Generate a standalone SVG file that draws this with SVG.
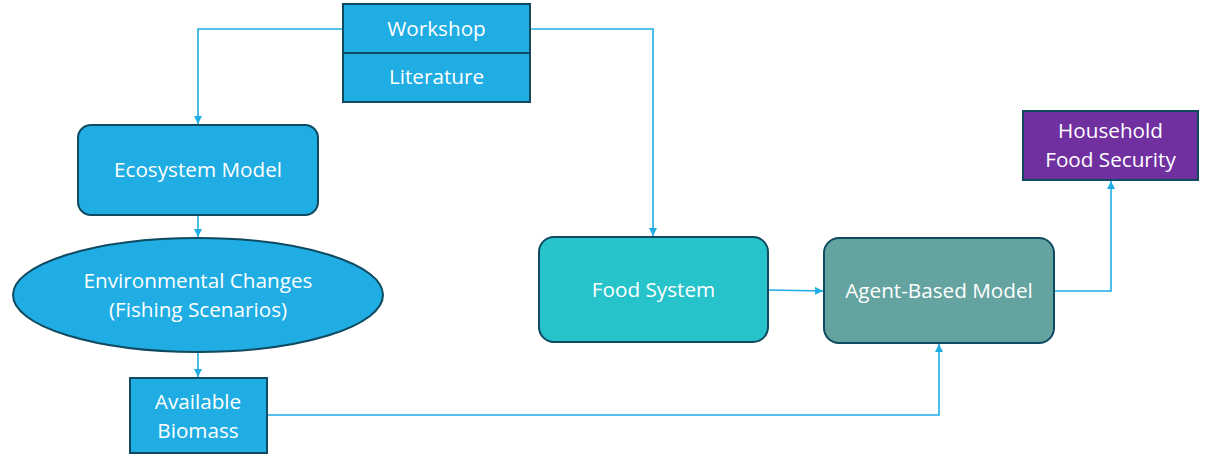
<svg xmlns="http://www.w3.org/2000/svg" width="1207" height="461" viewBox="0 0 1207 461">
<style>
.t{font-family:"Open Sans","Noto Sans","Liberation Sans",sans-serif;font-size:20.7px;fill:#ffffff;text-anchor:middle;dominant-baseline:central}
.c{fill:none;stroke:#1fade3;stroke-width:1.6}
.n{stroke:#0f4a60;stroke-width:2}
</style>
<defs>
<marker id="a" viewBox="0 0 10 10" refX="10" refY="5" markerWidth="8" markerHeight="8" markerUnits="userSpaceOnUse" orient="auto">
<path d="M0,0 L10,5 L0,10 z" fill="#1fade3"/>
</marker>
</defs>
<rect width="1207" height="461" fill="#ffffff"/>
<g id="connectors">
<path class="c" d="M343,29 H198 V124" marker-end="url(#a)"/>
<path class="c" d="M530,29 H653 V236" marker-end="url(#a)"/>
<path class="c" d="M198,215 V237" marker-end="url(#a)"/>
<path class="c" d="M198,352 V377" marker-end="url(#a)"/>
<path class="c" d="M267,415 H939 V344" marker-end="url(#a)"/>
<path class="c" d="M768,290 L823,291" marker-end="url(#a)"/>
<path class="c" d="M1054,291 H1111 V181" marker-end="url(#a)"/>
</g>
<g id="workshop">
<rect class="n" x="343" y="4" width="187" height="49" fill="#1fade3"/>
<text class="t" x="436.5" y="28">Workshop</text>
</g>
<g id="literature">
<rect class="n" x="343" y="53" width="187" height="49" fill="#1fade3"/>
<text class="t" x="436.5" y="76">Literature</text>
</g>
<g id="ecosystem">
<rect class="n" x="78" y="125" width="240" height="90" rx="13" fill="#1fade3"/>
<text class="t" x="198" y="169">Ecosystem Model</text>
</g>
<g id="environmental">
<ellipse class="n" cx="198" cy="295" rx="185" ry="57" fill="#1fade3"/>
<text class="t" x="198" y="280">Environmental Changes</text>
<text class="t" x="198" y="309">(Fishing Scenarios)</text>
</g>
<g id="biomass">
<rect class="n" x="130" y="378" width="137" height="75" fill="#1fade3"/>
<text class="t" x="198" y="401">Available</text>
<text class="t" x="198" y="430">Biomass</text>
</g>
<g id="foodsystem">
<rect class="n" x="539" y="237" width="229" height="105" rx="15" fill="#27c3ca"/>
<text class="t" x="653.5" y="289">Food System</text>
</g>
<g id="abm">
<rect class="n" x="824" y="238" width="230" height="105" rx="15" fill="#64a39f" stroke="#1d4446"/>
<text class="t" x="939" y="290">Agent-Based Model</text>
</g>
<g id="household">
<rect class="n" x="1023" y="111" width="175" height="69" fill="#7030a0"/>
<text class="t" x="1110.5" y="130">Household</text>
<text class="t" x="1110.5" y="159">Food Security</text>
</g>
</svg>
